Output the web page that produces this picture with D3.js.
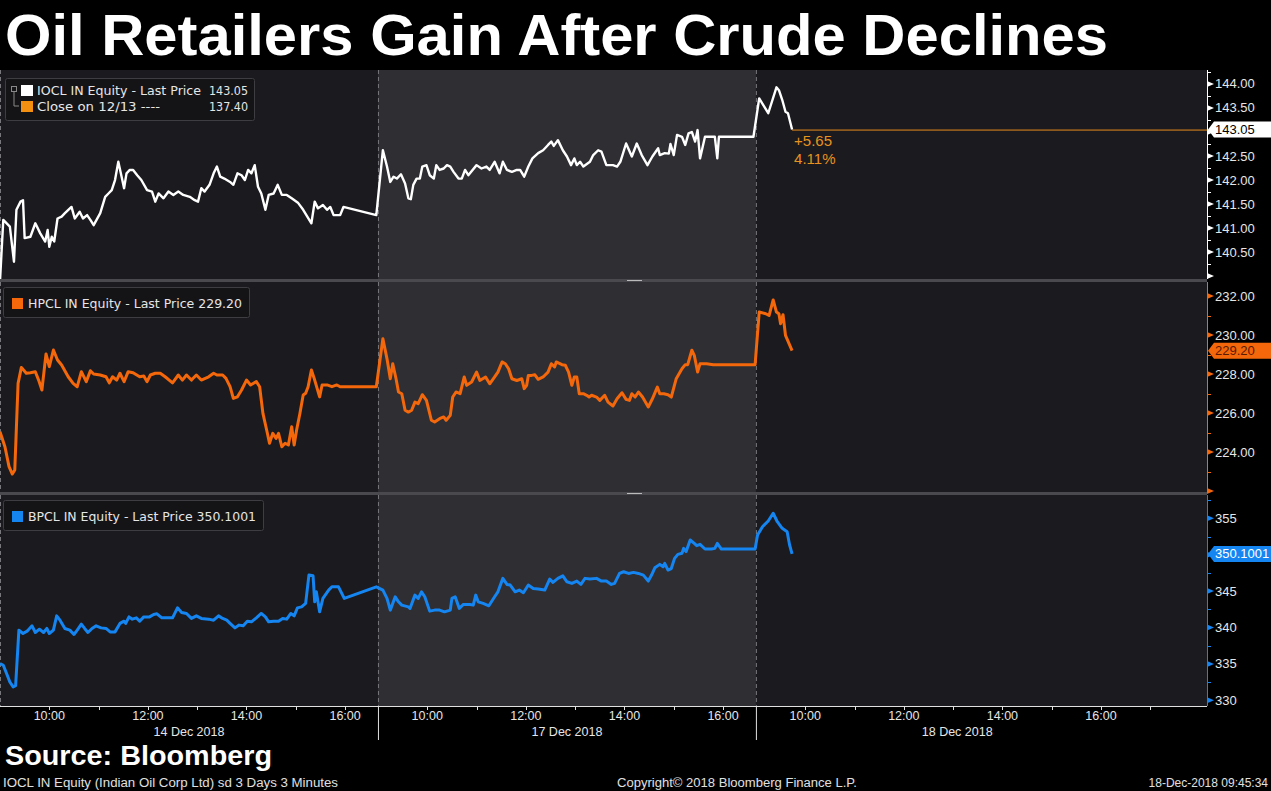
<!DOCTYPE html>
<html lang="en">
<head>
<meta charset="UTF-8">
<title>Oil Retailers Gain After Crude Declines</title>
<style>
  body { margin: 0; background: #000; }
  svg { display: block; }
  text { font-family: "Liberation Sans", Arial, sans-serif; }
  .lg { font-family: "DejaVu Sans", sans-serif; font-size: 12.2px; fill: #e6e6e6; }
</style>
</head>
<body>

<svg width="1271" height="791"></svg>

<script src="https://d3js.org/d3.v7.min.js"></script>
<script>

// ---- data (3 minute bars, India session) ----
const days = ["14 Dec 2018", "17 Dec 2018", "18 Dec 2018"];
const hourLabels = ["10:00", "12:00", "14:00", "16:00"];

const ioclDec14 = [["09:00",139.90],["09:04",141.17],["09:12",141.03],["09:17",140.30],["09:20",141.38],["09:25",141.55],["09:28",141.58],["09:30",140.79],["09:37",140.82],["09:43",141.10],["09:49",140.89],["09:55",140.72],["09:58",140.96],["10:00",140.61],["10:03",140.82],["10:06",140.72],["10:10",141.20],["10:15",141.24],["10:19",141.31],["10:27",141.44],["10:31",141.20],["10:37",141.34],["10:41",141.20],["10:46",141.27],["10:50",141.17],["10:54",141.06],["11:02",141.31],["11:08",141.65],["11:12",141.72],["11:16",141.79],["11:20",142.00],["11:24",142.38],["11:28",142.07],["11:31",141.83],["11:34",142.14],["11:38",142.21],["11:42",142.21],["11:47",142.10],["11:52",142.00],["11:59",141.79],["12:05",141.76],["12:09",141.55],["12:13",141.72],["12:19",141.62],["12:25",141.76],["12:31",141.69],["12:37",141.76],["12:43",141.69],["12:51",141.65],["12:57",141.58],["13:01",141.55],["13:05",141.83],["13:09",141.76],["13:15",141.90],["13:20",142.14],["13:24",142.28],["13:28",142.07],["13:33",142.03],["13:40",141.96],["13:44",141.90],["13:49",142.14],["13:54",142.10],["13:58",142.00],["14:02",142.21],["14:06",142.14],["14:10",142.31],["14:14",141.86],["14:18",141.72],["14:23",141.38],["14:27",141.69],["14:33",141.72],["14:38",141.90],["14:43",141.69],["14:49",141.69],["14:55",141.62],["15:03",141.52],["15:09",141.38],["15:19",141.10],["15:23",141.55],["15:27",141.41],["15:33",141.48],["15:38",141.38],["15:42",141.44],["15:46",141.27],["15:54",141.27],["15:58",141.44],["16:38",141.27]];
const ioclDec17 = [["09:06",142.62],["09:11",142.28],["09:15",141.96],["09:19",142.07],["09:23",142.03],["09:28",142.12],["09:33",141.93],["09:37",141.62],["09:40",141.60],["09:43",141.90],["09:47",142.03],["09:51",142.03],["09:54",142.28],["09:59",142.31],["10:03",142.10],["10:08",142.03],["10:11",142.31],["10:15",142.21],["10:20",142.24],["10:24",142.31],["10:28",142.28],["10:32",142.17],["10:38",142.03],["10:42",142.03],["10:46",142.21],["10:50",142.10],["11:00",142.31],["11:06",142.24],["11:12",142.28],["11:16",142.21],["11:22",142.38],["11:28",142.14],["11:32",142.38],["11:37",142.21],["11:43",142.17],["11:49",142.21],["11:53",142.21],["11:58",142.07],["12:03",142.28],["12:08",142.45],["12:15",142.56],["12:21",142.62],["12:27",142.73],["12:31",142.80],["12:34",142.71],["12:39",142.83],["12:45",142.62],["12:50",142.49],["12:55",142.31],["12:59",142.45],["13:02",142.31],["13:06",142.38],["13:10",142.28],["13:18",142.38],["13:22",142.52],["13:28",142.62],["13:32",142.59],["13:38",142.31],["13:46",142.31],["13:51",142.28],["13:55",142.38],["14:02",142.76],["14:09",142.49],["14:15",142.76],["14:21",142.52],["14:28",142.31],["14:34",142.49],["14:41",142.66],["14:43",142.52],["14:49",142.56],["14:54",142.55],["14:56",142.75],["15:00",142.52],["15:04",142.94],["15:10",142.90],["15:14",142.73],["15:18",142.97],["15:22",143.00],["15:26",142.80],["15:29",143.04],["15:32",142.45],["15:38",142.90],["15:44",142.90],["15:50",142.90],["15:53",142.45],["15:55",142.90],["16:37",142.90]];
const ioclDec18 = [["09:04",143.70],["09:15",143.39],["09:25",143.93],["09:28",143.87],["09:32",143.67],["09:36",143.42],["09:39",143.39],["09:44",143.05]];

const hpclDec14 = [["09:00",225.04],["09:06",224.27],["09:11",223.25],["09:15",222.87],["09:18",223.08],["09:22",227.52],["09:26",228.34],["09:32",228.04],["09:37",228.07],["09:43",228.12],["09:47",227.69],["09:51",227.18],["09:56",229.03],["10:00",228.38],["10:05",229.23],["10:10",228.72],["10:15",228.46],["10:23",227.86],["10:29",227.52],["10:34",227.35],["10:39",228.12],["10:45",227.61],["10:50",228.17],["10:54",228.00],["11:02",227.95],["11:09",227.86],["11:13",227.55],["11:17",227.86],["11:22",227.69],["11:26",228.04],["11:31",227.61],["11:36",228.12],["11:42",228.07],["11:50",227.86],["11:55",227.90],["11:59",227.61],["12:03",227.95],["12:09",228.04],["12:15",228.04],["12:21",227.86],["12:30",227.55],["12:37",227.95],["12:42",227.69],["12:47",227.95],["12:53",227.69],["12:59",227.95],["13:05",227.69],["13:14",227.86],["13:20",228.04],["13:24",227.95],["13:31",227.95],["13:35",227.78],["13:40",227.35],["13:44",226.75],["13:49",226.83],["13:54",227.18],["14:00",227.69],["14:05",227.44],["14:12",227.61],["14:16",227.35],["14:20",225.98],["14:25",225.04],["14:28",224.45],["14:32",224.96],["14:36",224.70],["14:39",224.96],["14:43",224.27],["14:47",224.45],["14:51",224.36],["14:55",225.30],["14:58",224.36],["15:01",225.13],["15:05",225.98],["15:09",226.92],["15:12",227.01],["15:15",227.35],["15:19",228.21],["15:23",227.69],["15:29",226.83],["15:32",227.44],["15:38",227.44],["15:44",227.35],["15:50",227.44],["15:54",227.35],["16:38",227.35]];
const hpclDec17 = [["09:06",229.81],["09:11",228.78],["09:15",227.76],["09:18",228.53],["09:22",227.76],["09:25",227.08],["09:29",226.99],["09:33",226.14],["09:37",226.05],["09:41",226.14],["09:45",226.56],["09:49",226.48],["09:54",226.94],["09:59",226.65],["10:05",225.63],["10:09",225.54],["10:15",225.71],["10:20",225.80],["10:23",225.63],["10:28",225.88],["10:31",226.82],["10:35",227.08],["10:40",226.99],["10:45",227.85],["10:48",227.42],["10:54",227.59],["11:00",228.10],["11:04",227.67],["11:11",227.85],["11:16",227.50],["11:22",227.85],["11:26",228.10],["11:31",228.62],["11:35",228.53],["11:39",228.27],["11:43",227.76],["11:49",227.67],["11:55",227.76],["11:58",227.25],["12:01",227.42],["12:03",227.93],["12:07",227.93],["12:11",227.96],["12:15",227.73],["12:21",227.85],["12:27",228.10],["12:31",228.53],["12:35",228.36],["12:37",228.62],["12:44",228.48],["12:48",228.45],["12:52",228.10],["12:56",227.42],["12:59",227.85],["13:02",227.85],["13:05",226.99],["13:10",226.99],["13:14",226.91],["13:17",226.82],["13:20",226.91],["13:26",226.82],["13:30",226.65],["13:36",226.91],["13:40",226.56],["13:46",226.36],["13:51",226.73],["13:57",227.04],["14:02",226.70],["14:06",226.65],["14:09",226.99],["14:13",226.82],["14:17",227.08],["14:22",226.82],["14:29",226.31],["14:34",226.73],["14:40",227.33],["14:43",226.99],["14:48",226.99],["14:53",226.94],["14:57",226.82],["15:03",227.76],["15:10",228.27],["15:14",228.48],["15:17",228.48],["15:22",229.22],["15:25",228.96],["15:29",228.10],["15:32",228.53],["15:40",228.53],["15:48",228.48],["16:39",228.48]];
const hpclDec18 = [["09:04",231.18],["09:12",231.09],["09:16",231.00],["09:21",231.80],["09:25",231.18],["09:28",231.09],["09:30",230.58],["09:33",231.04],["09:36",229.98],["09:44",229.20]];

const bpclDec14 = [["09:00",335.06],["09:04",334.82],["09:08",333.68],["09:12",332.52],["09:16",331.84],["09:19",332.00],["09:23",339.64],["09:28",339.18],["09:33",339.50],["09:39",340.23],["09:43",339.32],["09:48",339.77],["09:53",339.32],["09:57",339.87],["10:00",339.18],["10:05",339.64],["10:09",341.60],["10:13",341.01],["10:19",339.87],["10:25",339.64],["10:30",339.04],["10:34",339.64],["10:39",340.46],["10:43",339.87],["10:47",339.32],["10:52",339.87],["10:57",340.23],["11:03",339.95],["11:09",339.87],["11:14",339.40],["11:20",339.40],["11:26",340.56],["11:31",340.87],["11:33",340.56],["11:37",341.46],["11:41",341.15],["11:46",341.33],["11:50",340.87],["11:55",341.46],["12:02",341.46],["12:07",341.79],["12:11",341.88],["12:17",341.33],["12:25",341.33],["12:30",341.33],["12:36",342.70],["12:41",342.07],["12:47",341.93],["12:53",341.25],["12:59",341.60],["13:05",341.25],["13:14",341.15],["13:20",341.01],["13:26",341.60],["13:31",341.25],["13:36",341.01],["13:40",340.56],["13:46",339.95],["13:51",340.33],["13:56",340.23],["14:01",340.87],["14:06",340.78],["14:12",341.33],["14:18",341.93],["14:23",341.46],["14:27",340.78],["14:33",340.87],["14:39",340.87],["14:44",341.25],["14:49",341.15],["14:54",341.93],["14:58",341.60],["15:02",342.70],["15:07",342.84],["15:12",343.31],["15:16",347.20],["15:21",347.10],["15:23",343.53],["15:25",344.90],["15:29",342.15],["15:33",344.00],["15:40",345.14],["15:44",345.59],["15:52",345.59],["15:59",344.00],["16:38",345.59]];
const bpclDec17 = [["09:06",345.14],["09:11",344.00],["09:15",342.39],["09:21",344.22],["09:25",343.53],["09:29",343.07],["09:37",342.84],["09:39",342.62],["09:45",344.45],["09:49",344.00],["09:53",344.90],["09:57",344.22],["10:03",342.25],["10:09",342.39],["10:15",342.39],["10:21",342.15],["10:28",342.39],["10:30",344.00],["10:34",344.22],["10:39",342.62],["10:44",343.17],["10:52",343.17],["10:56",343.07],["10:59",344.45],["11:02",343.53],["11:08",343.31],["11:15",342.98],["11:22",344.22],["11:26",344.90],["11:32",346.75],["11:37",345.92],["11:41",345.83],["11:47",344.90],["11:52",345.14],["11:57",344.77],["12:03",345.83],["12:09",345.37],["12:15",345.28],["12:23",345.14],["12:29",346.65],["12:33",346.20],["12:39",346.75],["12:45",347.10],["12:50",346.28],["12:56",346.06],["13:02",346.38],["13:07",345.92],["13:12",346.75],["13:18",346.65],["13:26",346.75],["13:32",346.38],["13:38",346.38],["13:44",345.92],["13:48",346.06],["13:54",347.43],["13:59",347.66],["14:05",347.43],["14:11",347.57],["14:17",347.43],["14:23",347.20],["14:29",346.38],["14:33",347.20],["14:37",348.20],["14:43",348.67],["14:47",348.34],["14:49",348.81],["14:53",347.89],["14:57",348.10],["15:01",349.50],["15:05",350.05],["15:10",350.19],["15:12",350.87],["15:15",350.42],["15:20",352.02],["15:25",351.56],["15:28",351.24],["15:32",351.42],["15:38",350.78],["15:46",350.78],["15:50",350.87],["15:53",351.56],["15:58",350.78],["16:39",350.78]];
const bpclDec18 = [["09:02",352.70],["09:08",353.84],["09:15",354.63],["09:21",355.69],["09:26",354.53],["09:32",353.62],["09:38",353.16],["09:41",351.33],["09:44",350.10]];

const ioclTicks = [140, 140.5, 141, 141.5, 142, 142.5, 143, 143.5, 144];
const hpclTicks = [222, 224, 226, 228, 230, 232];
const bpclTicks = [330, 335, 340, 345, 350, 355];

const ioclLast = 143.05, ioclPrevClose = 137.40;
const hpclLast = 229.20, bpclLast = 350.1001;

// ---- layout ----
const W = 1271, plotRight = 1207;
const dayMinutes = 460;          // 09:00 -> 16:40 session on the axis
const svg = d3.select("svg");

const x = d3.scaleLinear().domain([0, 1469]).range([0, plotRight]);

function toMin(hhmm, day) {
  const p = hhmm.split(":");
  return (+p[0] * 60 + +p[1] - 540) + day * dayMinutes;
}
function joinDays(arr) {
  let out = [];
  arr.forEach((d, i) => d.forEach(e => out.push({ t: toMin(e[0], i), v: e[1] })));
  return out;
}

const panels = [
  { label: "IOCL IN Equity - Last Price", data: joinDays([ioclDec14, ioclDec17, ioclDec18]), color: "#ffffff",
    top: 70, bottom: 279, domain: [139.94, 144.29], ticks: ioclTicks, minor: 0.25, fmt: d3.format(".2f"),
    last: ioclLast, lastText: "143.05", tagText: "#000", sw: 2.4, lgLen: 164 },
  { label: "HPCL IN Equity - Last Price", data: joinDays([hpclDec14, hpclDec17, hpclDec18]), color: "#f4680b",
    top: 282, bottom: 492, domain: [221.95, 232.72], ticks: hpclTicks, minor: 1, fmt: d3.format(".2f"),
    last: hpclLast, lastText: "229.20", tagText: "#5a1a00", sw: 3, lgLen: 214 },
  { label: "BPCL IN Equity - Last Price", data: joinDays([bpclDec14, bpclDec17, bpclDec18]), color: "#1585f2",
    top: 495, bottom: 706, domain: [329.22, 358.2], ticks: bpclTicks, minor: 2.5, fmt: d3.format("d"),
    last: bpclLast, lastText: "350.1001", tagText: "#ffffff", sw: 3, lgLen: 228 }
];

// title
svg.append("text").attr("x", 5).attr("y", 55)
  .attr("fill", "#fff").attr("font-size", 57).attr("font-weight", "bold")
  .attr("textLength", 1103).attr("lengthAdjust", "spacingAndGlyphs")
  .text("Oil Retailers Gain After Crude Declines");

const defs = svg.append("defs");

panels.forEach((p, i) => {
  const g = svg.append("g");
  const y = d3.scaleLinear().domain(p.domain).range([p.bottom, p.top]);

  // backgrounds: plain days and shaded 17 Dec
  g.append("rect").attr("x", 0).attr("y", p.top).attr("width", plotRight).attr("height", p.bottom - p.top)
    .attr("fill", "#1b1b1f");
  g.append("rect").attr("x", x(dayMinutes)).attr("y", p.top)
    .attr("width", x(2 * dayMinutes) - x(dayMinutes)).attr("height", p.bottom - p.top)
    .attr("fill", "#2e2e33");

  // day separators
  [0, dayMinutes, 2 * dayMinutes].forEach(t => {
    g.append("line").attr("x1", x(t) + 0.5).attr("x2", x(t) + 0.5)
      .attr("y1", p.top).attr("y2", p.bottom)
      .attr("stroke", "#77777c").attr("stroke-dasharray", "4,3");
  });

  defs.append("clipPath").attr("id", "clip" + i)
    .append("rect").attr("x", 0).attr("y", p.top).attr("width", plotRight).attr("height", p.bottom - p.top);

  if (i === 0) {
    // last price reference line + change vs previous close
    const lt = p.data[p.data.length - 1].t;
    g.append("line").attr("x1", x(lt)).attr("x2", plotRight)
      .attr("y1", y(p.last) + 0.5).attr("y2", y(p.last) + 0.5)
      .attr("stroke", "#e88a1c").attr("stroke-width", 1);
    g.append("text").attr("x", x(lt) + 2).attr("y", y(p.last) + 16)
      .attr("fill", "#e8921e").attr("font-size", 15)
      .text("+" + d3.format(".2f")(ioclLast - ioclPrevClose));
    g.append("text").attr("x", x(lt) + 2).attr("y", y(p.last) + 34)
      .attr("fill", "#e8921e").attr("font-size", 15)
      .text(d3.format(".2f")((ioclLast - ioclPrevClose) / ioclPrevClose * 100) + "%");
  }

  // series line
  g.append("path").datum(p.data)
    .attr("clip-path", "url(#clip" + i + ")")
    .attr("d", d3.line().x(d => x(d.t)).y(d => y(d.v)))
    .attr("fill", "none").attr("stroke", p.color).attr("stroke-width", p.sw)
    .attr("stroke-linejoin", "round");

  // right axis
  g.append("line").attr("x1", plotRight + 0.5).attr("x2", plotRight + 0.5)
    .attr("y1", p.top).attr("y2", p.bottom).attr("stroke", p.color);
  const lo = Math.ceil(p.domain[0] / p.minor) * p.minor;
  d3.range(lo, p.domain[1], p.minor).forEach(v => {
    g.append("line").attr("x1", plotRight).attr("x2", plotRight + 4)
      .attr("y1", Math.round(y(v)) + 0.5).attr("y2", Math.round(y(v)) + 0.5).attr("stroke", p.color);
  });
  const ly = y(p.last);
  p.ticks.forEach(v => {
    const ty = y(v);
    g.append("path")
      .attr("d", `M${plotRight},${ty - 3}L${plotRight + 7},${ty}L${plotRight},${ty + 3}Z`)
      .attr("fill", p.color);
    // labels hidden at the panel edge and under the last-price tag
    if (ty < p.bottom - 5 && Math.abs(ty - ly) > 12) {
      g.append("text").attr("x", plotRight + 8).attr("y", ty + 4.5)
        .attr("fill", "#e6e6e6").attr("font-size", 13).text(p.fmt(v));
    }
  });

  // last price tag
  g.append("path")
    .attr("d", `M${plotRight + 1},${ly}L${plotRight + 7},${ly - 8}L${W},${ly - 8}L${W},${ly + 8}L${plotRight + 7},${ly + 8}Z`)
    .attr("fill", p.color);
  g.append("text").attr("x", plotRight + 8).attr("y", ly + 4.5)
    .attr("fill", p.tagText).attr("font-size", 13).text(p.lastText);

  // legend
  const lg = g.append("g");
  if (i === 0) {
    lg.append("rect").attr("x", 5.5).attr("y", 78.5).attr("width", 249).attr("height", 42).attr("rx", 2)
      .attr("fill", "#141417").attr("stroke", "#3d3d42");
    lg.append("rect").attr("x", 11.5).attr("y", 86.5).attr("width", 5).attr("height", 5)
      .attr("fill", "none").attr("stroke", "#888");
    lg.append("path").attr("d", "M14,92V106H19").attr("fill", "none").attr("stroke", "#888");
    lg.append("rect").attr("x", 21).attr("y", 85).attr("width", 12).attr("height", 11).attr("fill", "#fff");
    lg.append("rect").attr("x", 21).attr("y", 101).attr("width", 12).attr("height", 11).attr("fill", "#f39012");
    lg.append("text").attr("class", "lg").attr("x", 37).attr("y", 95)
      .attr("textLength", p.lgLen).attr("lengthAdjust", "spacingAndGlyphs").text(p.label);
    lg.append("text").attr("class", "lg").attr("x", 209).attr("y", 95)
      .attr("textLength", 39).attr("lengthAdjust", "spacingAndGlyphs").text(p.lastText);
    lg.append("text").attr("class", "lg").attr("x", 37).attr("y", 111)
      .attr("textLength", 123).attr("lengthAdjust", "spacingAndGlyphs").text("Close on 12/13 ----");
    lg.append("text").attr("class", "lg").attr("x", 209).attr("y", 111)
      .attr("textLength", 39).attr("lengthAdjust", "spacingAndGlyphs")
      .text(d3.format(".2f")(ioclPrevClose));
  } else {
    const bw = i === 1 ? 246 : 260;
    lg.append("rect").attr("x", 3.5).attr("y", p.top + 5.5).attr("width", bw).attr("height", 30).attr("rx", 2)
      .attr("fill", "#141417").attr("stroke", "#3d3d42");
    lg.append("rect").attr("x", 12).attr("y", p.top + 16).attr("width", 11).attr("height", 11).attr("fill", p.color);
    lg.append("text").attr("class", "lg").attr("x", 28).attr("y", p.top + 26)
      .attr("textLength", p.lgLen).attr("lengthAdjust", "spacingAndGlyphs")
      .text(p.label + " " + p.lastText);
  }

  // panel splitter
  if (i < 2) {
    svg.append("rect").attr("x", 0).attr("y", p.bottom).attr("width", plotRight).attr("height", 3).attr("fill", "#4a4a4e");
    svg.append("rect").attr("x", 627).attr("y", p.bottom + 1).attr("width", 15).attr("height", 1).attr("fill", "#bbb");
  }
});

// ---- time axis ----
const axisY = 706;
const ax = svg.append("g");
ax.append("line").attr("x1", 0).attr("x2", plotRight).attr("y1", axisY + 0.5).attr("y2", axisY + 0.5)
  .attr("stroke", "#e0e0e0");
days.forEach((day, i) => {
  const lastHour = i === 2 ? 17 : 16;
  d3.range(10, lastHour + 1).forEach(h => {
    const tx = Math.round(x((h - 9) * 60 + i * dayMinutes)) + 0.5;
    ax.append("line").attr("x1", tx).attr("x2", tx).attr("y1", axisY).attr("y2", axisY + 4).attr("stroke", "#e0e0e0");
  });
  hourLabels.forEach(lbl => {
    ax.append("text").attr("x", x(toMin(lbl, i))).attr("y", 720).attr("text-anchor", "middle")
      .attr("fill", "#e6e6e6").attr("font-size", 12.5).text(lbl);
  });
  const endMin = i === 2 ? toMin("17:10", i) : (i + 1) * dayMinutes;
  ax.append("text").attr("x", (x(i * dayMinutes) + x(endMin)) / 2).attr("y", 736).attr("text-anchor", "middle")
    .attr("fill", "#e6e6e6").attr("font-size", 12.5).text(day);
  if (i > 0) {
    ax.append("line").attr("x1", x(i * dayMinutes) + 0.5).attr("x2", x(i * dayMinutes) + 0.5)
      .attr("y1", axisY).attr("y2", 740).attr("stroke", "#e0e0e0");
  }
});

// ---- footer ----
svg.append("text").attr("x", 5).attr("y", 765).attr("fill", "#fff").attr("font-size", 27).attr("font-weight", "bold")
  .attr("textLength", 267).attr("lengthAdjust", "spacingAndGlyphs").text("Source: Bloomberg");
svg.append("text").attr("x", 3).attr("y", 787).attr("fill", "#e0e0e0").attr("font-size", 12.5)
  .attr("textLength", 335).attr("lengthAdjust", "spacingAndGlyphs")
  .text("IOCL IN Equity (Indian Oil Corp Ltd) sd 3 Days 3 Minutes");
svg.append("text").attr("x", 617).attr("y", 787).attr("fill", "#e0e0e0").attr("font-size", 12.5)
  .attr("textLength", 240).attr("lengthAdjust", "spacingAndGlyphs")
  .text("Copyright\u00a9 2018 Bloomberg Finance L.P.");
svg.append("text").attr("x", 1268).attr("y", 787).attr("text-anchor", "end").attr("fill", "#e0e0e0").attr("font-size", 12)
  .text("18-Dec-2018 09:45:34");

</script>
</body>
</html>
